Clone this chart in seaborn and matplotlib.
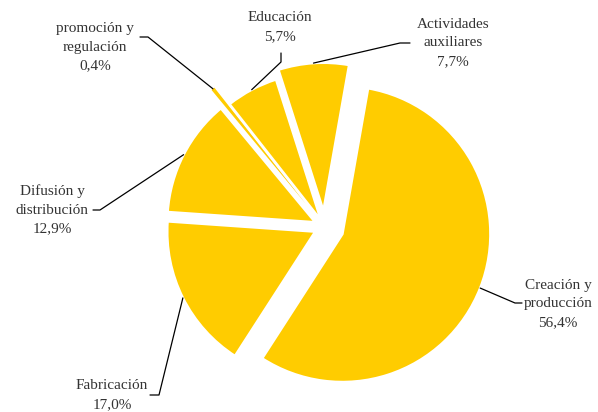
import numpy as np
import matplotlib
matplotlib.use('Agg')
import matplotlib.pyplot as plt
import seaborn as sns

# Datos
categorias = ['Creación y\nproducción', 'Fabricación', 'Difusión y\ndistribución',
              'promoción y\nregulación', 'Educación', 'Actividades\nauxiliares']
valores = [56.4, 17.0, 12.9, 0.4, 5.7, 7.7]
etiquetas_pct = ['56,4%', '17,0%', '12,9%', '0,4%', '5,7%', '7,7%']

sns.set_style('white')
plt.rcParams['font.family'] = ['Liberation Serif', 'DejaVu Serif']

W, H = 598, 412
R = 148.0          # radio en pixeles
CX, CY = 324.5, 227.0


def px(x, y):
    # pixel de la imagen -> coordenadas del eje
    return (x - CX) / R, (CY - y) / R


fig = plt.figure(figsize=(W / 100, H / 100), dpi=100)
ax = fig.add_axes([0, 0, 1, 1])

amarillo = '#FFCC00'
explode = [0.13, 0.07, 0.07, 0.2, 0.05, 0.11]
wedges, _ = ax.pie(valores, startangle=80, counterclock=False, explode=explode,
                   colors=[amarillo] * len(valores),
                   wedgeprops=dict(edgecolor='white', linewidth=1.8))
# la porcion minima sin borde, si no desaparece
wedges[3].set_linewidth(0)

# la tarta cambia los limites: se fijan despues
ax.set_xlim(-CX / R, (W - CX) / R)
ax.set_ylim(-(H - CY) / R, CY / R)
ax.set_aspect('equal')
ax.axis('off')

# posicion del texto y del codo de la linea guia (pixeles)
layout = [
    dict(text=(558, 304), ends=[(522, 303), (515, 303)]),
    dict(text=(112, 395), ends=[(150, 395), (159, 395)]),
    dict(text=(52, 210), ends=[(93, 210), (100, 210)]),
    dict(text=(95, 47), ends=[(140, 37), (148, 37)]),
    dict(text=(280, 27), ends=[(281, 53), (281, 62)]),
    dict(text=(453, 43), ends=[(410, 43), (400, 43)]),
]

gris = '#333333'
for w, cat, pct, lay in zip(wedges, categorias, etiquetas_pct, layout):
    ang = np.deg2rad((w.theta1 + w.theta2) / 2)
    ancla = (w.center[0] + w.r * np.cos(ang), w.center[1] + w.r * np.sin(ang))
    pts = [px(*p) for p in lay['ends']] + [ancla]
    ax.plot([p[0] for p in pts], [p[1] for p in pts], color='black', lw=0.9)
    tx, ty = px(*lay['text'])
    ax.text(tx, ty, f'{cat}\n{pct}', ha='center', va='center', fontsize=11,
            color=gris, linespacing=1.55)

fig.savefig('out.png', dpi=100)
